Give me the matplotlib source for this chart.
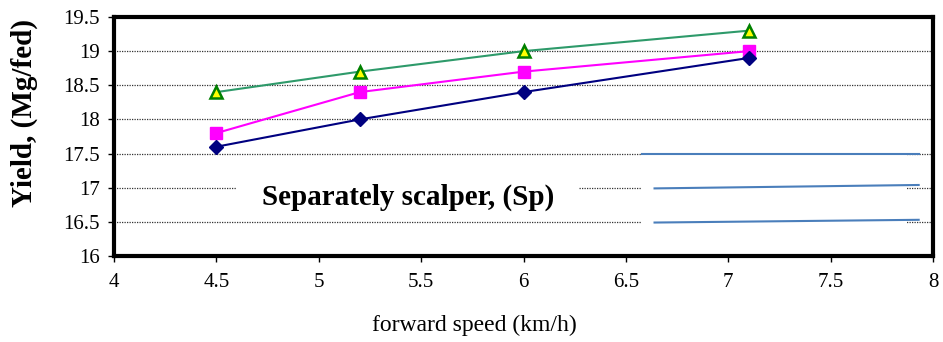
import matplotlib.pyplot as plt
from matplotlib.patches import Rectangle

plt.rcParams['font.family'] = ['Liberation Serif', 'DejaVu Serif']

speed = [4.5, 5.2, 6.0, 7.1]
yield_top = [18.4, 18.7, 19.0, 19.3]
yield_mid = [17.8, 18.4, 18.7, 19.0]
yield_low = [17.6, 18.0, 18.4, 18.9]

fig = plt.figure(figsize=(9.43, 3.42), dpi=100)
ax = fig.add_axes([114 / 943, 1 - 256 / 342, (933 - 114) / 943, (256 - 17) / 342])

ax.set_xlim(4, 8)
ax.set_ylim(16, 19.5)
ax.set_xticks([4, 4.5, 5, 5.5, 6, 6.5, 7, 7.5, 8])
ax.set_xticklabels(['4', '4.5', '5', '5.5', '6', '6.5', '7', '7.5', '8'])
ax.set_yticks([16, 16.5, 17, 17.5, 18, 18.5, 19, 19.5])
ax.set_yticklabels(['16', '16.5', '17', '17.5', '18', '18.5', '19', '19.5'])
ax.tick_params(labelsize=15, length=4, width=1, direction='out', color='black')
ax.tick_params(axis='x', pad=8)
ax.tick_params(axis='y', pad=6)
ax.yaxis.grid(True, linestyle=(0, (1, 1)), color='#333333', linewidth=0.9)
ax.set_axisbelow(True)
for s in ax.spines.values():
    s.set_linewidth(3)

# white boxes hiding the grid (leftover legend area)
ax.add_patch(Rectangle((4.6, 16.55), 1.67, 0.55, facecolor='white', edgecolor='none', zorder=1.5))
ax.add_patch(Rectangle((6.58, 16.45), 1.29, 1.1, facecolor='white', edgecolor='none', zorder=1.5))
ax.plot([6.58, 7.93], [17.5, 17.5], color='#4a7ebb', lw=1.5, zorder=2)
ax.plot([6.64, 7.93], [16.99, 17.04], color='#4a7ebb', lw=1.5, zorder=2)
ax.plot([6.64, 7.93], [16.49, 16.53], color='#4a7ebb', lw=1.5, zorder=2)

ax.plot(speed, yield_top, color='#2e9a6a', lw=1.5, marker='^', ms=9,
        mfc='#ffff00', mec='#008000', mew=1.8, zorder=3)
ax.plot(speed, yield_mid, color='#ff00ff', lw=1.5, marker='s', ms=9,
        mfc='#ff00ff', mec='#ff00ff', zorder=3)
ax.plot(speed, yield_low, color='#000080', lw=1.5, marker='D', ms=7.5,
        mfc='#000080', mec='#000080', zorder=3)

ax.text(5.436, 16.86, 'Separately scalper, (Sp)', fontsize=21, fontweight='bold',
        ha='center', va='center', zorder=4)

ax.set_xlabel('forward speed (km/h)', fontsize=17, va='center')
ax.xaxis.set_label_coords(0.44, -0.29)
ax.set_ylabel('Yield, (Mg/fed)', fontsize=21, fontweight='bold', va='center')
ax.yaxis.set_label_coords(-0.11, 0.60)

fig.savefig('out.png', dpi=100)
